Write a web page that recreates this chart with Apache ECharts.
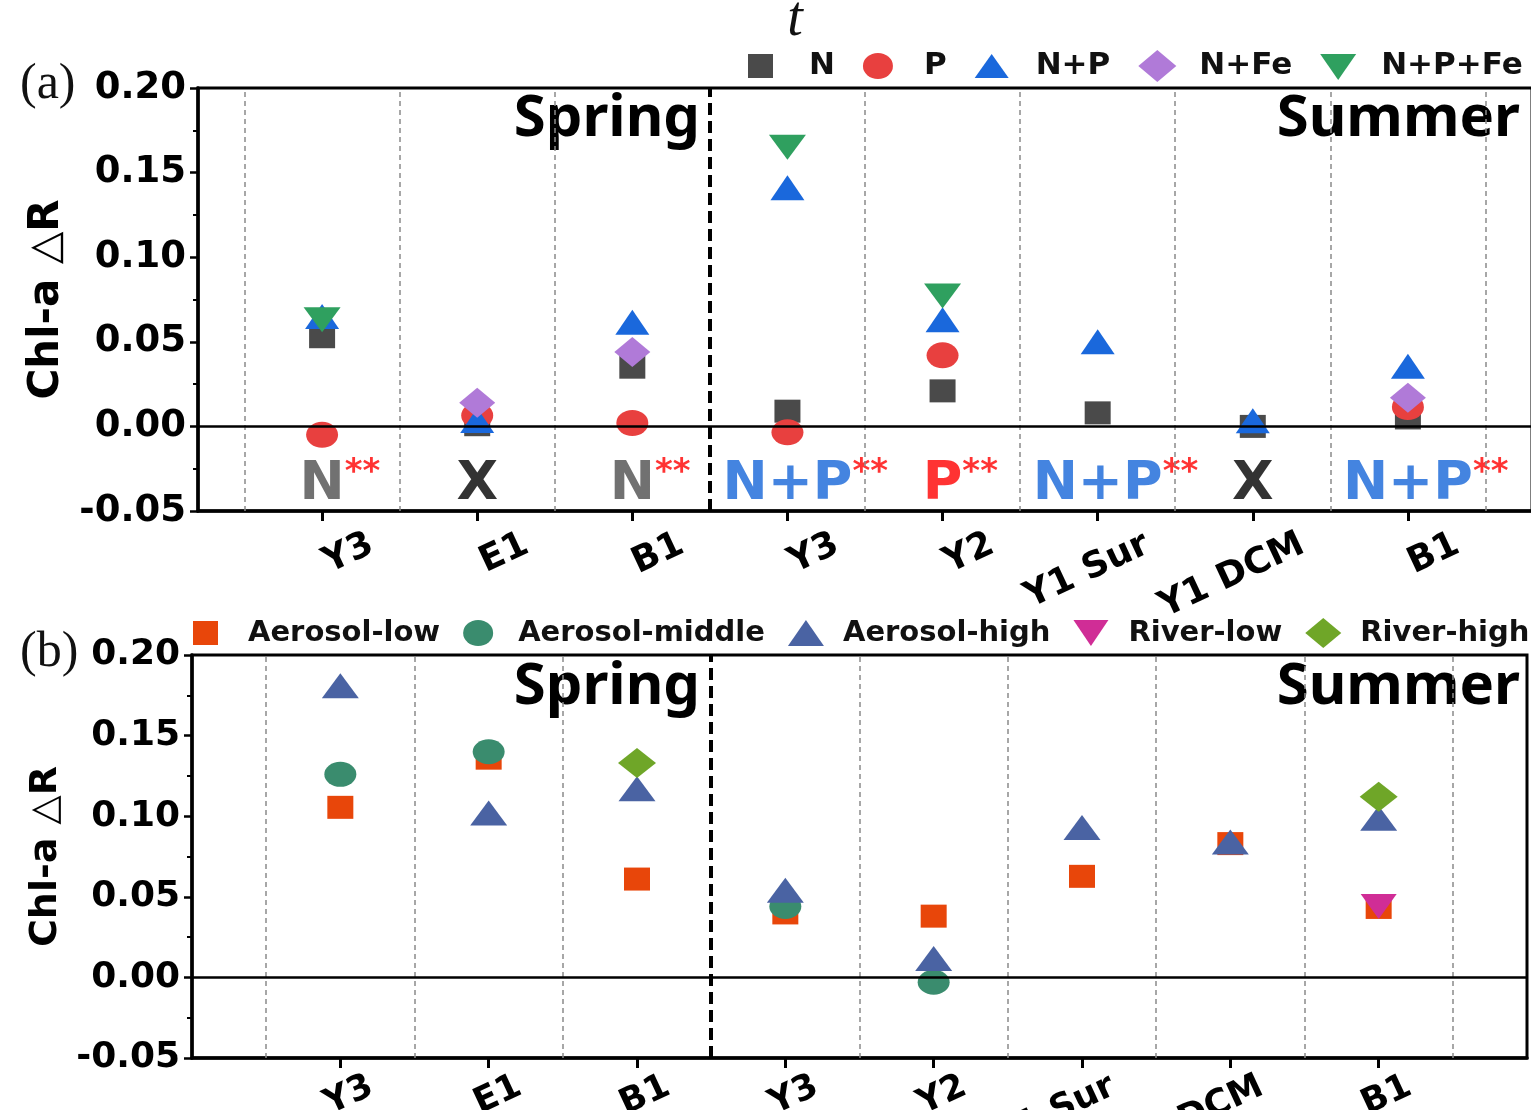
<!DOCTYPE html>
<html><head><meta charset="utf-8">
<script src="https://cdn.jsdelivr.net/npm/echarts@6/dist/echarts.min.js"></script>
<style>html,body{margin:0;padding:0;background:#fff}#c{width:1531px;height:1110px}</style>
</head><body><div id="c"></div>
<script>
// ---------- data ----------
const categories = ['Y3', 'E1', 'B1', 'Y3', 'Y2', 'Y1 Sur', 'Y1 DCM', 'B1'];
const springCount = 3;
const yTicks = [-0.05, 0.20, 0.05]; // min, max, interval

// panel (a)
const seriesNamesA = ['N', 'P', 'N+P', 'N+Fe', 'N+P+Fe'];
const nA    = [0.053, 0.001, 0.035, 0.009, 0.021, 0.008, 0.000, 0.005];
const pA    = [-0.005, 0.0065, 0.002, -0.0035, 0.042, null, null, 0.0115];
const npA   = [0.065, 0.0035, 0.0615, 0.141, 0.063, 0.050, 0.0033, 0.0356];
const nfeA  = [null, 0.014, 0.044, null, null, null, null, 0.017];
const npfeA = [0.063, null, null, 0.165, 0.077, null, null, null];
const annotTextA  = ['N', 'X', 'N', 'N+P', 'P', 'N+P', 'X', 'N+P'];
const annotColorA = ['gray', 'black', 'gray', 'blue', 'red', 'blue', 'black', 'blue'];
const annotStarA  = [true, false, true, true, true, true, false, true];
const annotLevelA = -0.0345;

// panel (b)
const seriesNamesB = ['Aerosol-low', 'Aerosol-middle', 'Aerosol-high', 'River-low', 'River-high'];
const lowB   = [0.1055, 0.136, 0.061, 0.040, 0.038, 0.0627, 0.083, 0.0434];
const midB   = [0.126, 0.140, null, 0.044, -0.003, null, null, null];
const highB  = [0.181, 0.102, 0.117, 0.054, 0.0118, 0.093, 0.084, 0.0987];
const rlowB  = [null, null, null, null, null, null, null, 0.044];
const rhighB = [null, null, 0.133, null, null, null, null, 0.112];

// ---------- helpers ----------
const F = 'DejaVu Sans';
function pts(arr) { return arr.map((v, i) => v == null ? null : [i, v]).filter(Boolean); }
const ELLIPSE = 'path://M0,1a1,1 0 1,0 2,0a1,1 0 1,0 -2,0z';
const DOWNTRI = 'path://M0,0L2,0L1,2z';

const colA = { N: '#4a4a4a', P: '#e8403f', NP: '#1a68dc', NFe: '#b07ad8', NPFe: '#2fa05f' };
const colB = { low: '#e8460a', mid: '#3a8c6e', high: '#4a63a3', rlow: '#d02d96', rhigh: '#6fa628' };

function yAxisCfg(gridIndex, nameSize, labelSize, nameGap) {
  return {
    gridIndex, type: 'value', min: yTicks[0], max: yTicks[1], interval: yTicks[2],
    name: 'Chl-a △R', nameLocation: 'middle', nameGap, nameRotate: 90,
    nameTextStyle: { fontFamily: F, fontWeight: 'bold', fontSize: nameSize, color: '#000' },
    axisLine: { show: true, onZero: false, lineStyle: { color: '#000', width: 3.5 } },
    axisTick: { show: true, inside: false, length: 8, lineStyle: { color: '#000', width: 2.5 } },
    minorTick: { show: true, splitNumber: 2, length: 5, lineStyle: { color: '#000', width: 2 } },
    splitLine: { show: false },
    axisLabel: {
      margin: 12, fontFamily: F, fontWeight: 'bold', fontSize: labelSize, color: '#000',
      formatter: v => (Math.abs(v) < 1e-9 ? 0 : v).toFixed(2)
    }
  };
}
function xAxisCfg(gridIndex, min, max, shift, margin, labelSize) {
  const idx = categories.map((c, i) => i);
  return {
    gridIndex, type: 'value', min, max,
    axisLine: { show: true, onZero: false, lineStyle: { color: '#000', width: 3.5 } },
    axisTick: { show: true, inside: false, length: 10, customValues: idx, lineStyle: { color: '#000', width: 3 } },
    splitLine: { show: false },
    axisLabel: {
      customValues: idx.map(i => i + shift), rotate: 25, margin,
      fontFamily: F, fontWeight: 'bold', fontSize: labelSize, color: '#000',
      formatter: v => categories[Math.round(v - shift)]
    }
  };
}
function guideLines() {
  const data = [];
  for (let i = 0; i <= categories.length; i++) {
    const x = i - 0.5;
    if (i === springCount) {
      data.push({ xAxis: x, lineStyle: { color: '#000', width: 4, type: [12, 6] } });
    } else {
      data.push({ xAxis: x, lineStyle: { color: '#8a8a8a', width: 1.5, type: [5, 4] } });
    }
  }
  data.push({ yAxis: 0, lineStyle: { color: '#000', width: 2.5, type: 'solid' } });
  return data;
}
function helperSeries(k) {
  return {
    type: 'scatter', xAxisIndex: k, yAxisIndex: k, data: [], z: 1, silent: true,
    markLine: { silent: true, symbol: ['none', 'none'], label: { show: false }, animation: false, data: guideLines() }
  };
}
function sc(name, k, arr, symbol, size, color) {
  return {
    name, type: 'scatter', xAxisIndex: k, yAxisIndex: k, data: pts(arr), symbol, symbolSize: size,
    itemStyle: { color, opacity: 1 }, z: 3, emphasis: { disabled: true }
  };
}

const annotRich = {
  pad: { fontFamily: F, fontWeight: 'bold', fontSize: 34, color: 'rgba(0,0,0,0)', lineHeight: 34, verticalAlign: 'top' },
  star: { fontFamily: F, fontWeight: 'bold', fontSize: 34, color: '#ff0000', lineHeight: 34, verticalAlign: 'top' },
  gray: { fontFamily: F, fontWeight: 'bold', fontSize: 54, color: '#4d4d4d', lineHeight: 58 },
  black: { fontFamily: F, fontWeight: 'bold', fontSize: 54, color: '#000000', lineHeight: 58 },
  blue: { fontFamily: F, fontWeight: 'bold', fontSize: 54, color: '#1565d8', lineHeight: 58 },
  red: { fontFamily: F, fontWeight: 'bold', fontSize: 54, color: '#ff0000', lineHeight: 58 }
};
const annotData = annotTextA.map((t, i) => ({
  value: [i, annotLevelA],
  label: {
    formatter: annotStarA[i] ? '{pad|**}{' + annotColorA[i] + '|' + t + '}{star|**}' : '{' + annotColorA[i] + '|' + t + '}'
  }
}));

const legendIconsA = [
  'path://M0,0M56,32M0,4h25v24h-25z',
  'path://M0,0M56,32M0,16a15,13 0 1,0 30,0a15,13 0 1,0 -30,0z',
  'path://M0,0M56,32M17,4L34,28L0,28z',
  'path://M0,0M56,32M19,0L38,16L19,32L0,16z',
  'path://M0,0M56,32M0,4L36,4L18,30z'
];
const legendIconsB = [
  'path://M0,0M50,32M0,4h25v24h-25z',
  'path://M0,0M50,32M0,16a15,13 0 1,0 30,0a15,13 0 1,0 -30,0z',
  'path://M0,0M50,32M18,3L36,29L0,29z',
  'path://M0,0M50,32M0,3L35,3L17.5,29z',
  'path://M0,0M50,32M18,1L36,16L18,31L0,16z'
];

const chart = echarts.init(document.getElementById('c'));
chart.setOption({
  animation: false,
  backgroundColor: '#fff',
  grid: [
    { left: 198, top: 88, width: 1334, height: 423, show: true, borderColor: '#000', borderWidth: 3,
      backgroundColor: 'transparent', containLabel: false, outerBoundsMode: 'none' },
    { left: 192, top: 655, width: 1335, height: 403, show: true, borderColor: '#000', borderWidth: 3,
      backgroundColor: 'transparent', containLabel: false, outerBoundsMode: 'none' }
  ],
  xAxis: [xAxisCfg(0, -0.8, 7.8, 0.32, 32, 36), xAxisCfg(1, -1, 8, 0.21, 27, 35)],
  yAxis: [yAxisCfg(0, 42, 37, 123), yAxisCfg(1, 38, 36, 124)],
  legend: [
    {
      left: 748, top: 50, width: 800, padding: 0, itemWidth: 56, itemHeight: 32, itemGap: 28, selectedMode: false,
      textStyle: { fontFamily: F, fontWeight: 'bold', fontSize: 31, color: '#111' },
      data: seriesNamesA.map((n, i) => ({ name: n, icon: legendIconsA[i] }))
    },
    {
      left: 193, top: 617, width: 1360, padding: 0, itemWidth: 50, itemHeight: 32, itemGap: 23, selectedMode: false,
      textStyle: { fontFamily: F, fontWeight: 'bold', fontSize: 29, color: '#111' },
      data: seriesNamesB.map((n, i) => ({ name: n, icon: legendIconsB[i] }))
    }
  ],
  series: [
    helperSeries(0),
    sc(seriesNamesA[0], 0, nA, 'rect', [26, 23], colA.N),
    sc(seriesNamesA[1], 0, pA, ELLIPSE, [32, 26], colA.P),
    sc(seriesNamesA[2], 0, npA, 'triangle', [34, 25], colA.NP),
    sc(seriesNamesA[3], 0, nfeA, 'diamond', [36, 30], colA.NFe),
    sc(seriesNamesA[4], 0, npfeA, DOWNTRI, [37, 25], colA.NPFe),
    {
      type: 'scatter', xAxisIndex: 0, yAxisIndex: 0, data: annotData, symbolSize: 1, silent: true, z: 4,
      itemStyle: { color: 'rgba(0,0,0,0)' },
      label: { show: true, position: 'inside', rich: annotRich }
    },
    helperSeries(1),
    sc(seriesNamesB[0], 1, lowB, 'rect', [26, 23], colB.low),
    sc(seriesNamesB[1], 1, midB, ELLIPSE, [32, 25], colB.mid),
    sc(seriesNamesB[2], 1, highB, 'triangle', [37, 25], colB.high),
    sc(seriesNamesB[3], 1, rlowB, DOWNTRI, [36, 25], colB.rlow),
    sc(seriesNamesB[4], 1, rhighB, 'diamond', [38, 30], colB.rhigh)
  ],
  graphic: [
    { type: 'text', left: 20, top: 60, style: { text: '(a)', font: '50px "Liberation Serif"', fill: '#111' } },
    { type: 'text', left: 20, top: 628, style: { text: '(b)', font: '50px "Liberation Serif"', fill: '#111' } },
    { type: 'text', x: 795, y: 20, style: { text: 't', font: 'italic 56px "Liberation Serif"', fill: '#111', align: 'center', verticalAlign: 'middle' } },
    { type: 'text', x: 700, y: 119, style: { text: 'Spring', font: 'bold 58px "Noto Sans"', fill: '#000', align: 'right', verticalAlign: 'middle' } },
    { type: 'text', x: 1520, y: 119, style: { text: 'Summer', font: 'bold 58px "Noto Sans"', fill: '#000', align: 'right', verticalAlign: 'middle' } },
    { type: 'text', x: 700, y: 687, style: { text: 'Spring', font: 'bold 58px "Noto Sans"', fill: '#000', align: 'right', verticalAlign: 'middle' } },
    { type: 'text', x: 1520, y: 687, style: { text: 'Summer', font: 'bold 58px "Noto Sans"', fill: '#000', align: 'right', verticalAlign: 'middle' } }
  ]
});
</script></body></html>
